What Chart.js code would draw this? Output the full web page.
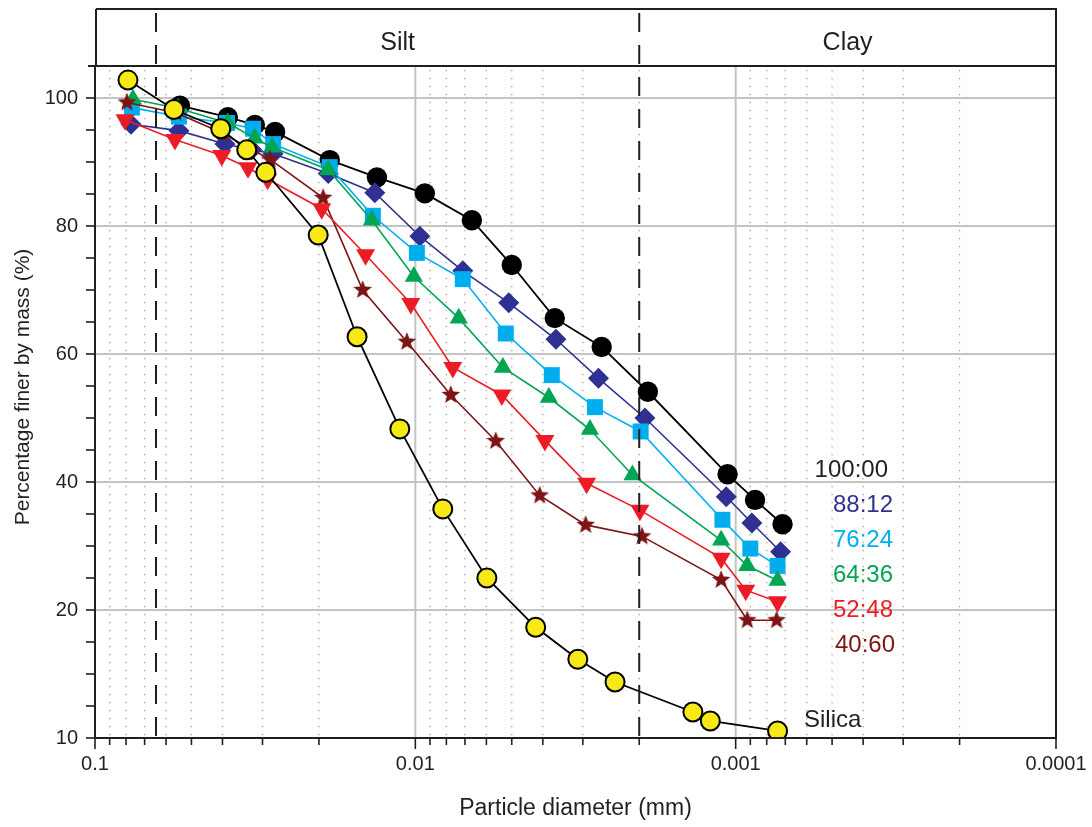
<!DOCTYPE html>
<html>
<head>
<meta charset="utf-8">
<title>Particle size distribution</title>
<script src="https://cdn.jsdelivr.net/npm/chart.js@4.4.1/dist/chart.umd.min.js"></script>
<style>
  html, body { margin: 0; padding: 0; background: #fff; }
  #wrap { width: 1092px; height: 827px; }
</style>
</head>
<body>
<div id="wrap"><canvas id="grafico" width="1092" height="827"></canvas></div>
<script>
// particle diameter (mm) and percentage finer, one pair per mix (silica:clay)
const mix100D = [0.0543, 0.0385, 0.0317, 0.0274, 0.0185, 0.01318, 0.00934, 0.00666, 0.0050, 0.00367, 0.00262, 0.00188, 0.00106, 0.00087, 0.000714];
const mix100P = [98.8, 97.0, 95.8, 94.7, 90.3, 87.6, 85.1, 80.9, 73.9, 65.6, 61.1, 54.1, 41.2, 37.2, 33.4];

const mix88D = [0.0772, 0.0547, 0.0393, 0.0324, 0.0278, 0.0187, 0.01338, 0.00968, 0.00711, 0.00511, 0.00364, 0.00268, 0.00192, 0.00107, 0.00089, 0.000724];
const mix88P = [95.9, 94.9, 92.8, 91.9, 91.3, 88.2, 85.2, 78.4, 73.0, 68.0, 62.3, 56.2, 50.0, 37.7, 33.6, 29.1];

const mix76D = [0.0767, 0.0547, 0.0387, 0.0321, 0.0278, 0.0185, 0.01357, 0.00989, 0.00711, 0.00522, 0.00375, 0.00275, 0.00198, 0.0011, 0.0009, 0.00074];
const mix76P = [98.5, 97.1, 96.1, 95.2, 92.8, 89.2, 81.6, 75.8, 71.7, 63.2, 56.7, 51.7, 47.9, 34.1, 29.6, 26.9];

const mix64D = [0.0761, 0.0551, 0.0385, 0.0317, 0.0280, 0.0187, 0.01367, 0.01011, 0.00732, 0.00533, 0.00383, 0.00285, 0.0021, 0.00111, 0.00092, 0.00074];
const mix64P = [99.8, 98.4, 96.1, 93.7, 92.3, 88.8, 80.9, 72.1, 65.6, 57.9, 53.2, 48.2, 41.1, 30.9, 26.9, 24.6];

const mix52D = [0.0806, 0.0563, 0.0402, 0.0333, 0.0289, 0.0196, 0.0143, 0.01033, 0.00764, 0.00537, 0.00394, 0.00292, 0.00199, 0.00111, 0.00093, 0.00074];
const mix52P = [96.6, 93.5, 91.0, 89.1, 87.3, 82.7, 75.5, 67.9, 57.9, 53.6, 46.5, 39.8, 35.6, 28.1, 23.1, 21.3];

const mix40D = [0.0795, 0.0559, 0.0399, 0.0331, 0.0284, 0.0194, 0.0146, 0.01063, 0.00775, 0.00561, 0.00409, 0.00294, 0.00196, 0.00111, 0.00092, 0.000745];
const mix40P = [99.3, 97.7, 94.5, 92.2, 90.4, 84.4, 70.0, 61.9, 53.6, 46.4, 37.9, 33.3, 31.5, 24.7, 18.4, 18.4];

const silicaD = [0.0789, 0.0567, 0.0405, 0.0336, 0.0293, 0.0201, 0.0152, 0.01118, 0.00821, 0.00598, 0.00421, 0.00311, 0.00238, 0.00136, 0.0012, 0.00074];
const silicaP = [102.8, 98.2, 95.2, 91.9, 88.4, 78.6, 62.7, 48.3, 35.8, 25.0, 17.3, 12.3, 8.75, 4.06, 2.66, 1.1];

const mixLabels = ['100:00', '88:12', '76:24', '64:36', '52:48', '40:60'];
const zoneLabels = ['Silt', 'Clay'];
const zoneLimits = [0.0645, 0.002];   // sand/silt and silt/clay boundaries (mm)

const xTickValues = [0.1, 0.01, 0.001, 0.0001];
const xTickLabels = ['0.1', '0.01', '0.001', '0.0001'];
const yTickValues = [0, 20, 40, 60, 80, 100];
const yTickLabels = ['10', '20', '40', '60', '80', '100'];

const ink = '#231f20';
const cores = ['#000000', '#2e3192', '#00aeef', '#00a651', '#ed1c24', '#7d1416'];
const amarelo = '#f6e916';
const sans = "'Liberation Sans', Arial, Helvetica, sans-serif";

function estrela(cor, fora, dentro) {
    const c = document.createElement('canvas');
    const s = Math.ceil(fora * 2 + 2);
    c.width = s; c.height = s;
    const g = c.getContext('2d');
    g.fillStyle = cor;
    g.beginPath();
    for (let i = 0; i < 10; i++) {
        const r = i % 2 ? dentro : fora;
        const a = -Math.PI / 2 + i * Math.PI / 5;
        g.lineTo(s / 2 + r * Math.cos(a), s / 2 + r * Math.sin(a));
    }
    g.closePath();
    g.fill();
    return c;
}

function serie(label, d, p, cor, estilo, raio, extra) {
    return Object.assign({
        label: label,
        data: d.map((v, i) => ({ x: v, y: p[i] })),
        showLine: true,
        borderColor: cor,
        backgroundColor: cor,
        pointBackgroundColor: cor,
        pointBorderColor: cor,
        pointBorderWidth: 0,
        pointStyle: estilo,
        pointRadius: raio,
        pointHoverRadius: raio,
        borderWidth: 1.6,
        tension: 0
    }, extra || {});
}

function ehDecada(v) {
    const l = Math.log10(v);
    return Math.abs(l - Math.round(l)) < 1e-9;
}

function linha(ctx, x1, y1, x2, y2) {
    ctx.beginPath();
    ctx.moveTo(x1, y1);
    ctx.lineTo(x2, y2);
    ctx.stroke();
}

// minor positions of the log axis: 1..9 in every decade
function valoresMenores() {
    const out = [];
    [0.0001, 0.001, 0.01].forEach(d => {
        for (let k = 1; k <= 9; k++) out.push(k * d);
    });
    out.push(0.1);
    return out;
}

const decoracao = {
    id: 'decoracao',
    beforeDatasetsDraw(chart) {
        const ctx = chart.ctx, a = chart.chartArea;
        const xs = chart.scales.x, ys = chart.scales.y;
        ctx.save();
        // dotted minor verticals
        ctx.strokeStyle = '#9d9d9d';
        ctx.lineWidth = 1.3;
        ctx.setLineDash([1.3, 6.7]);
        valoresMenores().forEach(v => {
            if (ehDecada(v)) return;
            const px = xs.getPixelForValue(v);
            linha(ctx, px, a.top + 4, px, a.bottom);
        });
        // solid major grid
        ctx.setLineDash([]);
        ctx.strokeStyle = '#c4c4c4';
        ctx.lineWidth = 2;
        valoresMenores().forEach(v => {
            if (!ehDecada(v)) return;
            const px = xs.getPixelForValue(v);
            if (px > a.left + 2 && px < a.right - 2) linha(ctx, px, a.top, px, a.bottom);
        });
        yTickValues.forEach(v => {
            if (v <= 0) return;
            const py = ys.getPixelForValue(v);
            linha(ctx, a.left, py, a.right, py);
        });
        ctx.restore();
    },
    afterDatasetsDraw(chart) {
        const ctx = chart.ctx, a = chart.chartArea;
        const xs = chart.scales.x, ys = chart.scales.y;
        const topoFaixa = 9;
        ctx.save();

        // boundary dashed lines
        ctx.strokeStyle = ink;
        ctx.lineWidth = 2;
        ctx.setLineDash([19, 13]);
        const limPx = zoneLimits.map(v => xs.getPixelForValue(v));
        limPx.forEach(px => linha(ctx, px, topoFaixa + 4, px, a.bottom));
        ctx.setLineDash([]);

        // frame and band
        ctx.lineWidth = 2;
        linha(ctx, a.left + 1, topoFaixa, a.right, topoFaixa);
        linha(ctx, a.left + 1, topoFaixa, a.left + 1, a.top);
        linha(ctx, a.right, topoFaixa - 1, a.right, a.bottom);
        linha(ctx, a.left - 7, a.top, a.right + 1, a.top);
        linha(ctx, a.left, a.top, a.left, a.bottom + 1);
        linha(ctx, a.left - 1, a.bottom, a.right + 1, a.bottom);

        // tick marks
        ctx.lineWidth = 1.6;
        valoresMenores().forEach(v => {
            const px = xs.getPixelForValue(v);
            linha(ctx, px, a.bottom, px, a.bottom + (ehDecada(v) ? 11 : 7));
        });
        ys.ticks.forEach(t => {
            if (t.value > 100) return;
            const py = ys.getPixelForValue(t.value);
            linha(ctx, a.left - 9, py, a.left, py);
        });

        // zone names
        ctx.fillStyle = ink;
        ctx.font = '25px ' + sans;
        ctx.textAlign = 'center';
        ctx.textBaseline = 'alphabetic';
        ctx.fillText(zoneLabels[0], (limPx[0] + limPx[1]) / 2, 50);
        ctx.fillText(zoneLabels[1], (limPx[1] + a.right) / 2, 50);

        // series names
        ctx.font = '24px ' + sans;
        ctx.textAlign = 'right';
        const direita = [888, 893, 893, 893, 893, 895];
        mixLabels.forEach((t, i) => {
            ctx.fillStyle = i === 0 ? ink : cores[i];
            ctx.fillText(t, direita[i], 477 + i * 35);
        });
        ctx.fillStyle = ink;
        ctx.textAlign = 'left';
        ctx.fillText('Silica', 804, 727);

        // y title
        ctx.save();
        ctx.translate(23, 387);
        ctx.rotate(-Math.PI / 2);
        ctx.textAlign = 'center';
        ctx.textBaseline = 'middle';
        ctx.font = '21px ' + sans;
        ctx.fillText('Percentage finer by mass (%)', 0, 0);
        ctx.restore();

        ctx.restore();
    }
};

const ctx = document.getElementById('grafico').getContext('2d');
const grafico = new Chart(ctx, {
    type: 'scatter',
    data: {
        datasets: [
            serie('Silica', silicaD, silicaP, '#000000', 'circle', 9.5, {
                pointBackgroundColor: amarelo, pointBorderColor: '#000000', pointBorderWidth: 2, borderWidth: 1.8
            }),
            serie(mixLabels[4], mix52D, mix52P, cores[4], 'triangle', 11, { pointRotation: 180 }),
            serie(mixLabels[5], mix40D, mix40P, cores[5], estrela(cores[5], 9.8, 4.2), 10),
            serie(mixLabels[3], mix64D, mix64P, cores[3], 'triangle', 10.5),
            serie(mixLabels[2], mix76D, mix76P, cores[2], 'rect', 11.3),
            serie(mixLabels[1], mix88D, mix88P, cores[1], 'rectRot', 10.5),
            serie(mixLabels[0], mix100D, mix100P, cores[0], 'circle', 10.2, { borderWidth: 1.8 })
        ]
    },
    options: {
        responsive: false,
        animation: false,
        devicePixelRatio: 1,
        layout: { padding: { left: 0, top: 66, right: 36, bottom: 0 } },
        plugins: {
            legend: { display: false },
            tooltip: { enabled: false }
        },
        scales: {
            x: {
                type: 'logarithmic',
                reverse: true,
                min: 0.0001,
                max: 0.1,
                afterFit: s => { s.height = 89; s.paddingLeft = 0; s.paddingRight = 0; },
                grid: { display: false, drawTicks: false },
                border: { display: false },
                ticks: {
                    autoSkip: false,
                    maxRotation: 0,
                    padding: 14,
                    color: ink,
                    font: { family: sans, size: 20 },
                    callback: v => {
                        const i = xTickValues.findIndex(t => Math.abs(t - v) / t < 1e-6);
                        return i >= 0 ? xTickLabels[i] : '';
                    }
                },
                title: {
                    display: true,
                    text: 'Particle diameter (mm)',
                    color: ink,
                    font: { family: sans, size: 23 },
                    padding: { top: 4, bottom: 5 }
                }
            },
            y: {
                min: 0,
                max: 105,
                afterFit: s => { s.width = 95; s.paddingTop = 0; s.paddingBottom = 0; },
                grid: { display: false, drawTicks: false },
                border: { display: false },
                ticks: {
                    stepSize: 5,
                    autoSkip: false,
                    padding: 17,
                    color: ink,
                    font: { family: sans, size: 20 },
                    callback: v => {
                        const i = yTickValues.indexOf(v);
                        return i >= 0 ? yTickLabels[i] : '';
                    }
                }
            }
        }
    },
    plugins: [decoracao]
});
</script>
</body>
</html>
